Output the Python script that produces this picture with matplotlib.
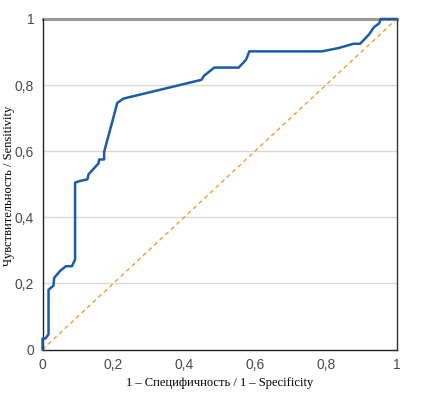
import matplotlib
matplotlib.use("Agg")
import matplotlib.pyplot as plt

# ROC curve points
fpr = [0, 0, 0.008, 0.017, 0.017, 0.031, 0.033, 0.05, 0.066, 0.083, 0.092, 0.092,
       0.106, 0.127, 0.13, 0.158, 0.16, 0.174, 0.174, 0.198, 0.211, 0.228, 0.449,
       0.456, 0.485, 0.554, 0.575, 0.584, 0.789, 0.836, 0.878, 0.897, 0.922, 0.936,
       0.951, 0.955, 1.0]
tpr = [0, 0.033, 0.033, 0.046, 0.181, 0.193, 0.217, 0.238, 0.252, 0.252, 0.272, 0.505,
       0.51, 0.515, 0.53, 0.563, 0.575, 0.575, 0.598, 0.693, 0.746, 0.759, 0.816,
       0.828, 0.853, 0.853, 0.877, 0.902, 0.902, 0.912, 0.925, 0.925, 0.953, 0.975,
       0.987, 1.0, 1.0]
ticks = [0, 0.2, 0.4, 0.6, 0.8, 1]
tick_labels = ["0", "0,2", "0,4", "0,6", "0,8", "1"]

fig = plt.figure(figsize=(4.32, 3.94), dpi=100)
ax = fig.add_axes([0.0984, 0.1129, 0.8196, 0.8389])

for t in ticks[1:-1]:
    ax.axhline(t, color="#d9d9d9", lw=1, zorder=0)
ax.axhline(1, color="#999999", lw=2.2, zorder=1, clip_on=False)

ax.plot([0, 1], [0, 1], color="#f39a2e", lw=1, ls=(0, (3, 2.5)), zorder=2)
ax.plot(fpr, tpr, color="#1a5ca8", lw=1.8, zorder=3, clip_on=False)

ax.set_xlim(0, 1)
ax.set_ylim(0, 1)
ax.set_xticks(ticks)
ax.set_xticklabels(tick_labels)
ax.set_yticks(ticks)
ax.set_yticklabels(tick_labels)
ax.tick_params(length=0, labelsize=10, labelcolor="#4a4a4a", pad=6,
               labelfontfamily="Liberation Sans")

ax.spines["top"].set_visible(False)
for s in ["left", "bottom"]:
    ax.spines[s].set_color("#222222")
    ax.spines[s].set_linewidth(1)
ax.spines["right"].set_color("#333333")
ax.spines["right"].set_linewidth(1)

ax.set_xlabel("1 – Специфичность / 1 – Specificity", family="Liberation Serif",
              fontsize=9, labelpad=4)
ax.set_ylabel("Чувствительность / Sensitivity", family="Liberation Serif",
              fontsize=9)
ax.yaxis.set_label_coords(-0.078, 0.495)

fig.savefig("out.png", dpi=100)
